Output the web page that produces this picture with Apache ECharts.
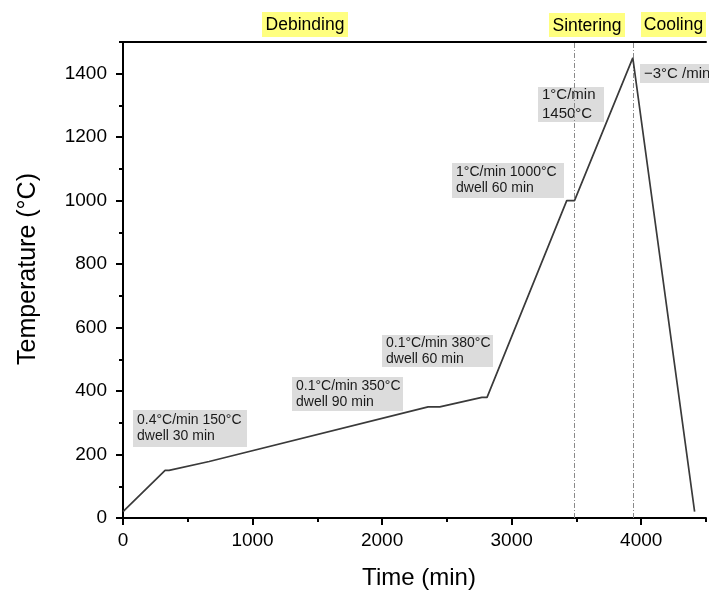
<!DOCTYPE html>
<html>
<head>
<meta charset="utf-8">
<script src="https://cdn.jsdelivr.net/npm/echarts@6/dist/echarts.min.js"></script>
<style>
  html, body { margin: 0; padding: 0; background: #fff; }
  #chart { width: 709px; height: 592px; }
</style>
</head>
<body>
<div id="chart"></div>
<script>
// Firing schedule: time (min) and furnace temperature (°C) at each segment corner
const timeMin = [0, 325, 355, 665, 2355, 2445, 2770, 2810, 3425, 3485, 3935, 4412];
const tempC   = [20, 150, 150, 178, 350, 350, 380, 380, 1000, 1000, 1450, 20];

// Stage boundaries (end of debinding, end of sintering)
const stageBounds = [3485, 3935];
const stageNames = ['Debinding', 'Sintering', 'Cooling'];

// Tick labels
const xMajorTicks = [0, 1000, 2000, 3000, 4000];
const yMajorTicks = [0, 200, 400, 600, 800, 1000, 1200, 1400];

// Segment notes
const notes = [
  ['0.4°C/min 150°C', 'dwell 30 min'],
  ['0.1°C/min 350°C', 'dwell 90 min'],
  ['0.1°C/min 380°C', 'dwell 60 min'],
  ['1°C/min 1000°C', 'dwell 60 min'],
  ['1°C/min', '1450°C'],
  ['\u22123°C /min']
];

const FONT = '"Liberation Sans", Arial, sans-serif';
const chart = echarts.init(document.getElementById('chart'), null, { renderer: 'canvas' });

const series = timeMin.map((t, i) => [t, tempC[i]]);

// note box layout: [x, y, w, h, fontSize, lineGap]
const noteBoxes = [
  [133, 410, 114, 37, 14, 16],
  [292, 377, 111, 34, 14, 16],
  [382, 335, 111, 32, 14, 16],
  [452, 163, 112, 35, 14, 16],
  [538, 87, 66, 35, 15, 19],
  [640, 64, 80, 19, 15, 0]
];

const graphics = [];
notes.forEach((lines, i) => {
  const [x, y, w, h, fs, gap] = noteBoxes[i];
  const children = [{
    type: 'rect', shape: { x: 0, y: 0, width: w, height: h },
    style: { fill: '#dcdcdc' }
  }];
  const n = lines.length;
  const first = h / 2 - (n - 1) * gap / 2;
  lines.forEach((ln, k) => {
    children.push({
      type: 'text', x: 4, y: first + k * gap,
      style: { text: ln, font: fs + 'px ' + FONT, fill: '#1a1a1a', verticalAlign: 'middle', textAlign: 'left' }
    });
  });
  graphics.push({ type: 'group', x: x, y: y, children: children, z: 10 });
});

// stage labels with yellow highlight
const stageBoxes = [
  [262, 12, 86, 25],
  [549, 13, 76, 24],
  [641, 12, 65, 25]
];
stageNames.forEach((name, i) => {
  const [x, y, w, h] = stageBoxes[i];
  graphics.push({
    type: 'group', x: x, y: y, z: 10,
    children: [
      { type: 'rect', shape: { x: 0, y: 0, width: w, height: h }, style: { fill: '#ffff80' } },
      { type: 'text', x: w / 2, y: h / 2 + 1,
        style: { text: name, font: '17.5px ' + FONT, fill: '#000', textAlign: 'center', verticalAlign: 'middle' } }
    ]
  });
});

// axis titles
graphics.push({
  type: 'text', x: 28, y: 269, rotation: Math.PI / 2,
  style: { text: 'Temperature (°C)', font: '25px ' + FONT, fill: '#000', textAlign: 'center', verticalAlign: 'middle' }
});
graphics.push({
  type: 'text', x: 419, y: 578,
  style: { text: 'Time (min)', font: '24px ' + FONT, fill: '#000', textAlign: 'center', verticalAlign: 'middle' }
});

const axisLine = { show: true, onZero: false, lineStyle: { color: '#000', width: 2 } };

chart.setOption({
  animation: false,
  backgroundColor: '#fff',
  grid: { left: 123, right: 0, top: 42, bottom: 74, containLabel: false },
  xAxis: [
    { // short ticks every 500 min, labels on thousands
      type: 'value', min: 0, max: 4500, interval: 500, position: 'bottom',
      axisLine: axisLine,
      axisTick: { show: true, length: 4, lineStyle: { color: '#000', width: 2 } },
      axisLabel: {
        show: true, margin: 13, color: '#000', fontSize: 19, fontFamily: FONT,
        formatter: v => xMajorTicks.indexOf(v) >= 0 ? String(v) : ''
      },
      splitLine: { show: false }
    },
    { // long ticks on thousands
      type: 'value', min: 0, max: 4500, interval: 1000, position: 'bottom',
      axisLine: { show: false },
      axisTick: { show: true, length: 7, customValues: xMajorTicks, lineStyle: { color: '#000', width: 2 } },
      axisLabel: { show: false },
      splitLine: { show: false }
    },
    { // frame line along the top
      type: 'value', min: 0, max: 4500, position: 'top',
      axisLine: axisLine, axisTick: { show: false }, axisLabel: { show: false }, splitLine: { show: false }
    }
  ],
  yAxis: [
    {
      type: 'value', min: 0, max: 1500, interval: 100, position: 'left',
      axisLine: axisLine,
      axisTick: { show: true, length: 4, lineStyle: { color: '#000', width: 2 } },
      axisLabel: {
        show: true, margin: 16, color: '#000', fontSize: 19, fontFamily: FONT,
        formatter: v => yMajorTicks.indexOf(v) >= 0 ? String(v) : ''
      },
      splitLine: { show: false }
    },
    {
      type: 'value', min: 0, max: 1500, interval: 200, position: 'left',
      axisLine: { show: false },
      axisTick: { show: true, length: 7, customValues: yMajorTicks, lineStyle: { color: '#000', width: 2 } },
      axisLabel: { show: false },
      splitLine: { show: false }
    }
  ],
  series: [{
    type: 'line',
    xAxisIndex: 0, yAxisIndex: 0,
    data: series,
    symbol: 'none',
    lineStyle: { color: '#3a3a3a', width: 1.7 },
    z: 5,
    markLine: {
      silent: true, symbol: 'none',
      label: { show: false },
      lineStyle: { color: '#8a8a8a', width: 1, type: [5, 2, 1, 2] },
      data: stageBounds.map(v => ({ xAxis: v }))
    }
  }],
  graphic: graphics
});
</script>
</body>
</html>
